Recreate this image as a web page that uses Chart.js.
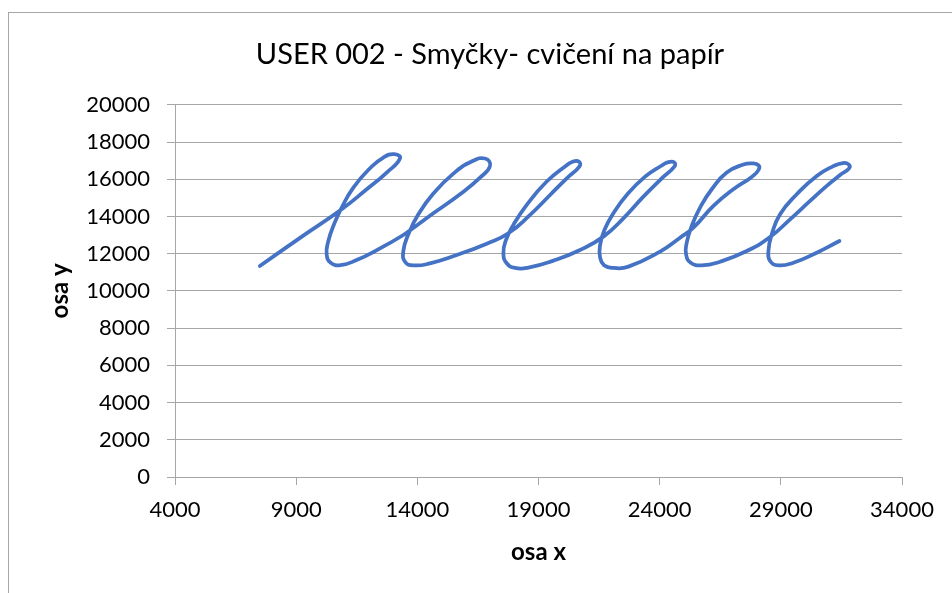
<!DOCTYPE html>
<html lang="cs">
<head>
    <meta charset="UTF-8">
    <title>USER 002 - Smyčky- cvičení na papír</title>
    <script src="https://cdn.jsdelivr.net/npm/chart.js"></script>
    <style>
        body {
            margin: 0;
            overflow: hidden;
            background: #fff;
        }
        #box {
            position: absolute;
            left: 8px;
            top: 12px;
            width: 962px;
            height: 600px;
            border: 1px solid #a6a6a6;
        }
    </style>
</head>
<body>
    <div id="box"><canvas id="graf"></canvas></div>

    <script>
        // Hodnoty (pořadí bodů = pořadí tahu pera)
        const osaX = [
            7500, 9160, 10878, 11910, 12735, 13286, 13038, 12598, 12048, 11360, 10878, 10562, 10328, 10259, 10424, 10837, 11497,
            12460, 13423, 13905, 14661, 15762, 16587, 17000, 16794, 16243, 15487, 14661, 14042, 13630, 13423, 13492, 13836, 14524,
            15625, 16863, 17757, 18652, 19477, 20165, 20694, 20673, 20430, 20096, 19339, 18514, 17964, 17661, 17551, 17689, 18032, 18583,
            19615, 20715, 21678, 22503, 23329, 24085, 24615, 24594, 24360, 24085, 23398, 22641, 22091, 21720, 21541, 21541, 21706, 22091, 22710,
            24017, 24842, 25392, 26218, 27043, 27800, 28082, 28082, 27830, 27454, 26768, 26149, 25667, 25323, 25117, 25090, 25282, 25736,
            26493, 27593, 28556, 29382, 30207, 30895, 31445, 31817, 31796, 31560, 31170, 30482, 29657, 28969, 28625, 28488, 28556, 28900,
            29519, 30482, 31418
        ];
        const osaY = [
            11340, 12850, 14385, 15462, 16359, 17130, 17346, 17166, 16592, 15552, 14475, 13578, 12681, 11964, 11515, 11390, 11659,
            12286, 13004, 13452, 14170, 15193, 16090, 16718, 17112, 16951, 16305, 15229, 14116, 13040, 12143, 11569, 11371, 11479,
            11928, 12538, 13095, 14080, 15154, 16049, 16694, 16935, 16950, 16683, 15876, 14624, 13548, 12742, 12021, 11484, 11233, 11252,
            11627, 12200, 12916, 13901, 15064, 16049, 16694, 16909, 16920, 16737, 16138, 15154, 14169, 13274, 12468, 11806, 11376, 11233, 11305,
            12111, 12860, 13399, 14565, 15462, 16126, 16505, 16747, 16850, 16790, 16359, 15462, 14475, 13488, 12591, 11964, 11515, 11372,
            11569, 12143, 12896, 13847, 14834, 15641, 16233, 16586, 16801, 16870, 16704, 16179, 15193, 14116, 13040, 12143, 11605, 11372,
            11515, 12053, 12681
        ];
        const tickyX = [4000, 9000, 14000, 19000, 24000, 29000, 34000];
        const tickyY = [0, 2000, 4000, 6000, 8000, 10000, 12000, 14000, 16000, 18000, 20000];

        const body = osaX.map((x, i) => ({ x: x, y: osaY[i] }));
        const seda = '#a6a6a6';
        const pismo = 'Lato, "Open Sans", sans-serif';

        new Chart(document.getElementById('graf'), {
            type: 'scatter',
            data: {
                datasets: [{
                    data: body,
                    showLine: true,
                    borderColor: '#4472C4',
                    borderWidth: 3.75,
                    pointRadius: 0,
                    tension: 0.5,
                    borderCapStyle: 'round',
                    borderJoinStyle: 'round'
                }]
            },
            options: {
                responsive: true,
                maintainAspectRatio: false,
                animation: false,
                // symetricky okraj, aby byl nadpis na stredu celeho ramecku
                layout: { padding: { left: 69, right: 69 } },
                plugins: {
                    legend: { display: false },
                    tooltip: { enabled: false },
                    title: {
                        display: true,
                        text: 'USER 002 - Smyčky- cvičení na papír',
                        color: '#000',
                        font: { family: pismo, size: 29, weight: 'normal' },
                        padding: { top: 24, bottom: 33 }
                    }
                },
                scales: {
                    x: {
                        type: 'linear',
                        min: tickyX[0],
                        max: tickyX[tickyX.length - 1],
                        afterBuildTicks: s => { s.ticks = tickyX.map(v => ({ value: v })); },
                        afterFit: s => { s.height = 136; },
                        grid: { drawOnChartArea: false, drawTicks: true, tickLength: 8, color: seda },
                        border: { display: true, color: seda },
                        ticks: {
                            color: '#000',
                            font: { family: pismo, size: 22 },
                            padding: 12,
                            maxRotation: 0,
                            callback: v => String(v)
                        },
                        title: {
                            display: true,
                            text: 'osa x',
                            color: '#000',
                            font: { family: pismo, size: 24, weight: 'bold' },
                            padding: { bottom: 46 }
                        }
                    },
                    y: {
                        type: 'linear',
                        min: tickyY[0],
                        max: tickyY[tickyY.length - 1],
                        afterBuildTicks: s => { s.ticks = tickyY.map(v => ({ value: v })); },
                        afterFit: s => { s.width = 97; },
                        grid: { color: seda, tickLength: 8 },
                        border: { display: true, color: seda },
                        ticks: {
                            color: '#000',
                            font: { family: pismo, size: 22 },
                            padding: 17,
                            callback: v => String(v)
                        },
                        title: {
                            display: true,
                            text: 'osa y',
                            color: '#000',
                            font: { family: pismo, size: 24, weight: 'bold' },
                            padding: { top: -32 }
                        }
                    }
                }
            }
        });
    </script>
</body>
</html>
